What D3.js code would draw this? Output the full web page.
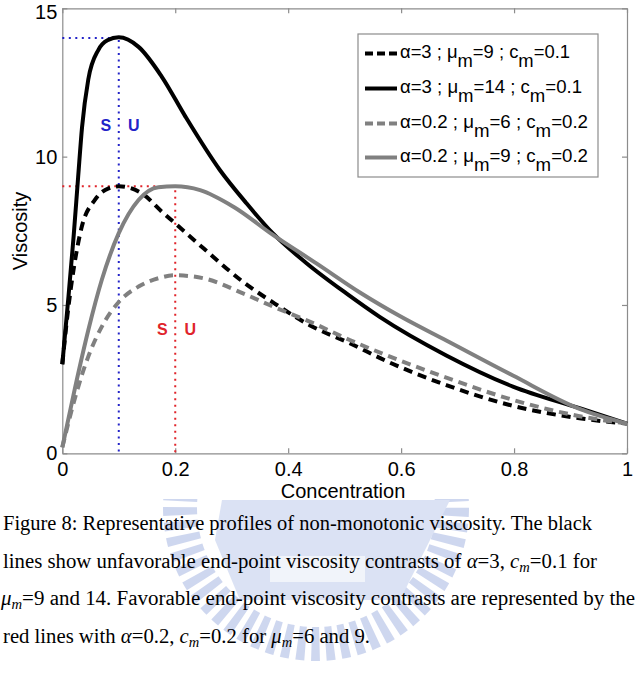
<!DOCTYPE html>
<html>
<head>
<meta charset="utf-8">
<script src="https://cdn.jsdelivr.net/npm/d3@7"></script>
<style>
  body { margin: 0; background: #fff; }
  svg { display: block; }
  .axis text { font-family: Arial, "Liberation Sans", sans-serif; font-size: 20px; fill: #000; }
  .axis path, .axis line { stroke: #8c8c8c; stroke-width: 1.2; }
</style>
</head>
<body>
<div class="graphic"></div>
<script>
// viscosity profiles: [concentration, viscosity]
const blackDashed = [[0,3],[0.01,4.8],[0.02,6.2],[0.034,7.6],[0.058,8.55],[0.082,8.93],[0.1,9],[0.141,8.76],
  [0.176,8.15],[0.2,7.75],[0.25,6.91],[0.32,5.78],[0.38,5.0],[0.438,4.32],[0.509,3.71],[0.575,3.1],
  [0.68,2.3],[0.798,1.6],[0.916,1.18],[1,1]];
const blackSolid = [[0,3],[0.011,5.3],[0.02,7.3],[0.028,9.3],[0.035,11.0],[0.046,12.6],[0.064,13.6],[0.08,13.92],
  [0.1,14.02],[0.135,13.7],[0.176,12.7],[0.218,11.35],[0.279,9.55],[0.326,8.43],[0.373,7.41],[0.433,6.4],
  [0.503,5.39],[0.562,4.6],[0.68,3.3],[0.798,2.25],[0.916,1.52],[1,1]];
const grayDashed = [[0,0.2],[0.023,1.9],[0.046,3.26],[0.07,4.27],[0.1,5.1],[0.135,5.62],[0.17,5.9],[0.2,6.0],
  [0.25,5.9],[0.32,5.39],[0.38,4.89],[0.438,4.44],[0.509,3.82],[0.575,3.3],[0.68,2.55],[0.798,1.8],
  [0.916,1.25],[1,1]];
const graySolid = [[0,0.2],[0.023,2.25],[0.046,4.15],[0.07,5.85],[0.1,7.42],[0.135,8.54],[0.17,8.97],[0.2,9.0],
  [0.244,8.87],[0.303,8.31],[0.373,7.36],[0.45,6.4],[0.527,5.42],[0.6,4.6],[0.68,3.8],[0.798,2.62],
  [0.916,1.5],[1,1]];

const seriesNames = ['α=3 ; μm=9 ; cm=0.1', 'α=3 ; μm=14 ; cm=0.1', 'α=0.2 ; μm=6 ; cm=0.2', 'α=0.2 ; μm=9 ; cm=0.2'];
const legendParts = [['3', '9', '0.1'], ['3', '14', '0.1'], ['0.2', '6', '0.2'], ['0.2', '9', '0.2']];
const xTicks = [0, 0.2, 0.4, 0.6, 0.8, 1];
const yTicks = [0, 5, 10, 15];
// peak markers: [concentration, viscosity]
const bluePeak = [0.1, 14];
const redPeak = [0.2, 9];

const styles = [
  { color: '#000', dash: '9,6', legendDash: '8,4' },
  { color: '#000', dash: null, legendDash: null },
  { color: '#808080', dash: '9,6', legendDash: '8,4' },
  { color: '#808080', dash: null, legendDash: null }
];
const allSeries = [blackDashed, blackSolid, grayDashed, graySolid];

const W = 636, H = 674;
const svg = d3.select('.graphic').append('svg').attr('width', W).attr('height', H);

// faint watermark behind the caption
const wm = svg.append('g').attr('opacity', 0.5);
wm.append('clipPath').attr('id', 'wmclip').append('rect')
  .attr('x', 0).attr('y', 499).attr('width', W).attr('height', H - 499);
const wmg = wm.append('g').attr('clip-path', 'url(#wmclip)');
wmg.append('circle').attr('cx', 316).attr('cy', 508).attr('r', 136)
  .attr('fill', 'none').attr('stroke', '#9fb0e0').attr('stroke-width', 34).attr('stroke-dasharray', '8,6');
wmg.append('path')
  .attr('d', 'M222,500 L450,500 L420,560 L400,600 L240,600 L215,540 Z')
  .attr('fill', '#b8c6ea');
wmg.append('rect').attr('x', 270).attr('y', 556).attr('width', 95).attr('height', 26)
  .attr('fill', '#e4eaf7');

const x = d3.scaleLinear().domain([0, 1]).range([62.3, 627]);
const y = d3.scaleLinear().domain([0, 15]).range([453.3, 8.3]);

// axes box, MATLAB style ticks inward
svg.append('g').attr('class', 'axis').attr('transform', `translate(0,${y(0)})`)
  .call(d3.axisBottom(x).tickValues(xTicks).tickFormat(d3.format('~g')).tickSizeInner(-5).tickSizeOuter(0).tickPadding(9));
svg.append('g').attr('class', 'axis').attr('transform', `translate(0,${y(15)})`)
  .call(d3.axisTop(x).tickValues(xTicks).tickFormat('').tickSizeInner(-5).tickSizeOuter(0));
const yAxis = svg.append('g').attr('class', 'axis').attr('transform', `translate(${x(0)},0)`)
  .call(d3.axisLeft(y).tickValues(yTicks).tickSizeInner(-5).tickSizeOuter(0).tickPadding(5));
yAxis.selectAll('text').filter(d => d === 15).attr('dy', '0.5em');
svg.append('g').attr('class', 'axis').attr('transform', `translate(${x(1)},0)`)
  .call(d3.axisRight(y).tickValues(yTicks).tickFormat('').tickSizeInner(-5).tickSizeOuter(0));

// dotted guides to the peaks
const guide = (p, color) => {
  svg.append('path')
    .attr('d', `M${x(0)},${y(p[1])} L${x(p[0])},${y(p[1])} L${x(p[0])},${y(0)}`)
    .attr('fill', 'none').attr('stroke', color).attr('stroke-width', 2).attr('stroke-dasharray', '2,4.5');
};
guide(redPeak, '#e0242b');
guide(bluePeak, '#2323c8');

const line = d3.line().x(d => x(d[0])).y(d => y(d[1])).curve(d3.curveMonotoneX);

svg.selectAll('path.series')
  .data(allSeries)
  .enter()
  .append('path')
  .attr('class', 'series')
  .attr('d', line)
  .attr('fill', 'none')
  .attr('stroke', (d, i) => styles[i].color)
  .attr('stroke-width', 4)
  .attr('stroke-dasharray', (d, i) => styles[i].dash);

// S / U stability labels
const suLabel = (p, dyPx, color) => {
  [['S', -13], ['U', 15]].forEach(([t, off]) => {
    svg.append('text')
      .attr('x', x(p[0]) + off).attr('y', dyPx)
      .attr('text-anchor', 'middle')
      .attr('font-family', 'Arial, sans-serif').attr('font-weight', 'bold').attr('font-size', 16)
      .attr('fill', color).text(t);
  });
};
suLabel(bluePeak, 130.5, '#2323c8');
suLabel(redPeak, 335, '#e0242b');

// legend
const lg = svg.append('g');
lg.append('rect').attr('x', 358).attr('y', 34).attr('width', 240).attr('height', 143)
  .attr('fill', '#fff').attr('stroke', '#8c8c8c').attr('stroke-width', 1.2);
const rowY = [53.5, 88.5, 123.5, 157.5];
const rowLen = [170, 182, 188, 188];
legendParts.forEach((parts, i) => {
  lg.append('line').attr('x1', 365).attr('x2', 397).attr('y1', rowY[i]).attr('y2', rowY[i])
    .attr('stroke', styles[i].color).attr('stroke-width', 4).attr('stroke-dasharray', styles[i].legendDash);
  const t = lg.append('text')
    .attr('x', 400).attr('y', rowY[i] + 4)
    .attr('font-family', 'Arial, "Liberation Sans", sans-serif').attr('font-size', 17.5)
    .attr('textLength', rowLen[i]).attr('lengthAdjust', 'spacingAndGlyphs')
    .attr('aria-label', seriesNames[i]);
  t.append('tspan').text(`α=${parts[0]} ; μ`);
  t.append('tspan').attr('dy', 9).text('m');
  t.append('tspan').attr('dy', -9).text(`=${parts[1]} ; c`);
  t.append('tspan').attr('dy', 9).text('m');
  t.append('tspan').attr('dy', -9).text(`=${parts[2]}`);
});

// axis titles
svg.append('text')
  .attr('x', 343).attr('y', 498).attr('text-anchor', 'middle')
  .attr('font-family', 'Arial, "Liberation Sans", sans-serif').attr('font-size', 20)
  .text('Concentration');
svg.append('text')
  .attr('transform', 'translate(27,231) rotate(-90)').attr('text-anchor', 'middle')
  .attr('font-family', 'Arial, "Liberation Sans", sans-serif').attr('font-size', 20)
  .text('Viscosity');

// figure caption
const caption = [
  { y: 530, x: 3, len: 589, parts: [['Figure 8: Representative profiles of non-monotonic viscosity. The black']] },
  { y: 568, x: 3, len: 594, parts: [['lines show unfavorable end-point viscosity contrasts of '], ['α', 'i'], ['=3, '], ['c', 'i'], ['m', 'is'], ['=0.1 for']] },
  { y: 605, x: 1, len: 634, parts: [['μ', 'i'], ['m', 'is'], ['=9 and 14. Favorable end-point viscosity contrasts are represented by the']] },
  { y: 643, x: 3, len: 367, parts: [['red lines with '], ['α', 'i'], ['=0.2, '], ['c', 'i'], ['m', 'is'], ['=0.2 for '], ['μ', 'i'], ['m', 'is'], ['=6 and 9.']] }
];
caption.forEach(c => {
  const t = svg.append('text')
    .attr('x', c.x).attr('y', c.y)
    .attr('font-family', '"Liberation Serif", "Times New Roman", serif').attr('font-size', 20)
    .attr('textLength', c.len).attr('lengthAdjust', 'spacingAndGlyphs');
  let low = false;
  c.parts.forEach(([txt, st]) => {
    const sp = t.append('tspan').text(txt);
    if (st && st.includes('i')) sp.attr('font-style', 'italic');
    if (st === 'is') { sp.attr('font-size', 14).attr('dy', 4); low = true; }
    else if (low) { sp.attr('dy', -4); low = false; }
  });
});
</script>
</body>
</html>
